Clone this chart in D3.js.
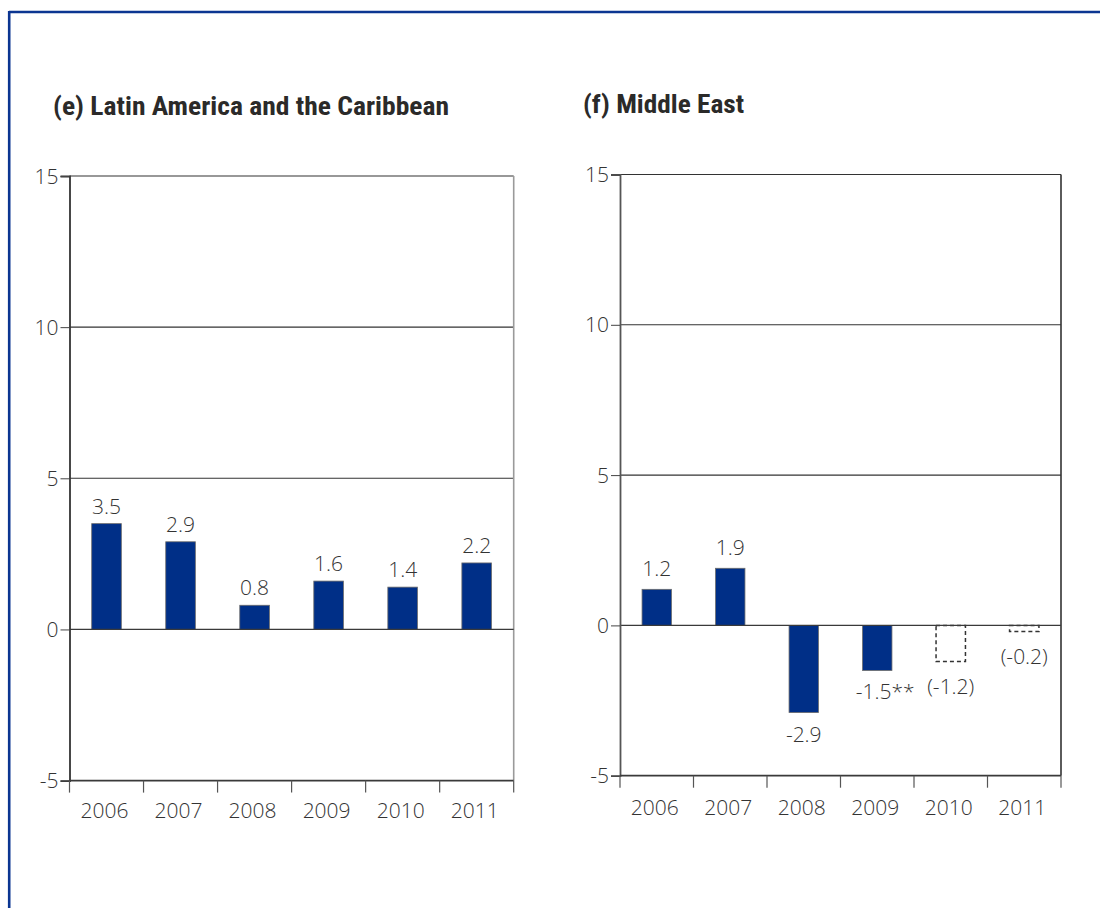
<!DOCTYPE html>
<html>
<head>
<meta charset="utf-8">
<script src="https://cdn.jsdelivr.net/npm/d3@7"></script>
<style>
  html, body { margin: 0; padding: 0; background: #fff; }
  svg { display: block; }
  .title { font-family: "Liberation Sans Narrow", "Roboto Condensed", Roboto, "Liberation Sans", sans-serif; font-weight: 700; font-size: 25px; fill: #2b2a29; }
  .lbl { font-family: "Open Sans", Lato, "Liberation Sans", sans-serif; font-weight: 300; font-size: 21px; fill: #333; }
</style>
</head>
<body>
<svg id="chart" width="1100" height="908"></svg>
<script>
// Years shown on both panels
const years = ["2006", "2007", "2008", "2009", "2010", "2011"];

// (e) Latin America and the Caribbean
const latamValues = [3.5, 2.9, 0.8, 1.6, 1.4, 2.2];
const latamLabels = ["3.5", "2.9", "0.8", "1.6", "1.4", "2.2"];

// (f) Middle East; the last two years are estimates drawn as dashed outlines
const meValues = [1.2, 1.9, -2.9, -1.5, -1.2, -0.2];
const meLabels = ["1.2", "1.9", "-2.9", "-1.5**", "(-1.2)", "(-0.2)"];
const meEstimate = [false, false, false, false, true, true];

// Shared value axis
const yDomain = [-5, 15];
const yTicks = [-5, 0, 5, 10, 15];
const gridValues = [5, 10, 15];

const svg = d3.select("#chart");

// Outer frame: blue rule along the top and left
svg.append("line").attr("x1", 9).attr("x2", 1100).attr("y1", 12).attr("y2", 12)
  .attr("stroke", "#0b3591").attr("stroke-width", 2.6);
svg.append("line").attr("x1", 9.2).attr("x2", 9.2).attr("y1", 11).attr("y2", 908)
  .attr("stroke", "#0b3591").attr("stroke-width", 2.6);

function drawPanel(cfg) {
  const g = svg.append("g");

  const x = d3.scaleBand().domain(years).range([cfg.x0, cfg.x1]).padding(0);
  const y = d3.scaleLinear().domain(yDomain).range([cfg.yBot, cfg.yTop]);
  const barW = x.bandwidth() * 0.4;

  // Title
  g.append("text").attr("class", "title")
    .attr("x", cfg.titleX).attr("y", cfg.titleY)
    .attr("textLength", cfg.titleW).attr("lengthAdjust", "spacingAndGlyphs")
    .text(cfg.title);

  // Horizontal rules at 5, 10 and 15
  g.selectAll("line.grid").data(gridValues).join("line")
    .attr("class", "grid")
    .attr("x1", cfg.x0).attr("x2", cfg.x1)
    .attr("y1", d => y(d)).attr("y2", d => y(d))
    .attr("stroke", "#333").attr("stroke-width", 1.1);

  // Right edge of the plot box
  g.append("line")
    .attr("x1", cfg.x1).attr("x2", cfg.x1)
    .attr("y1", y(15)).attr("y2", y(-5))
    .attr("stroke", cfg.rightColor).attr("stroke-width", 1.6);

  // Bars
  const data = cfg.values.map((v, i) => ({
    year: years[i], value: v, label: cfg.labels[i], est: cfg.estimate ? cfg.estimate[i] : false
  }));

  g.selectAll("rect.bar").data(data.filter(d => !d.est)).join("rect")
    .attr("class", "bar")
    .attr("x", d => x(d.year) + (x.bandwidth() - barW) / 2)
    .attr("width", barW)
    .attr("y", d => y(Math.max(0, d.value)))
    .attr("height", d => Math.abs(y(d.value) - y(0)))
    .attr("fill", "#002f87")
    .attr("stroke", "#6b6b6b").attr("stroke-width", 0.8);

  g.selectAll("rect.est").data(data.filter(d => d.est)).join("rect")
    .attr("class", "est")
    .attr("x", d => x(d.year) + (x.bandwidth() - barW) / 2)
    .attr("width", barW)
    .attr("y", d => y(Math.max(0, d.value)))
    .attr("height", d => Math.abs(y(d.value) - y(0)))
    .attr("fill", "none")
    .attr("stroke", "#333").attr("stroke-width", 1.5)
    .attr("stroke-dasharray", "4,3");

  // Zero line
  g.append("line")
    .attr("x1", cfg.x0).attr("x2", cfg.x1)
    .attr("y1", y(0)).attr("y2", y(0))
    .attr("stroke", "#3a3a3a").attr("stroke-width", 1.2);

  // Value labels
  g.selectAll("text.val").data(data).join("text")
    .attr("class", "lbl val")
    .attr("text-anchor", "middle")
    .attr("x", d => x(d.year) + x.bandwidth() / 2 + (d.label.endsWith("**") ? 8 : 0))
    .attr("y", d => d.value >= 0
      ? y(d.value) - cfg.posGap
      : y(d.value) + (d.est ? 33 : 29))
    .text(d => d.label);

  // Value axis with ticks pointing left
  const yAxis = d3.axisLeft(y).tickValues(yTicks).tickSize(9).tickPadding(2)
    .tickFormat(d3.format("d"));
  const ya = g.append("g").attr("transform", `translate(${cfg.x0},0)`).call(yAxis);
  ya.select(".domain").attr("stroke", cfg.axisColor).attr("stroke-width", 1.8);
  ya.selectAll(".tick line").attr("stroke", "#444").attr("stroke-width", 1);
  ya.selectAll(".tick text").attr("class", "lbl").attr("dy", "0.34em")
    .text(d => d < 0 ? "-" + Math.abs(d) : d);

  // Category axis: band boundaries marked below the bottom rule
  const bounds = years.map(d => x(d)).concat([cfg.x1]);
  g.append("line")
    .attr("x1", cfg.x0).attr("x2", cfg.x1)
    .attr("y1", y(-5)).attr("y2", y(-5))
    .attr("stroke", "#3a3a3a").attr("stroke-width", 1.8);
  g.selectAll("line.xt").data(bounds).join("line")
    .attr("class", "xt")
    .attr("x1", d => d).attr("x2", d => d)
    .attr("y1", y(-5)).attr("y2", y(-5) + 12)
    .attr("stroke", "#555").attr("stroke-width", 1.2);
  g.selectAll("text.yr").data(years).join("text")
    .attr("class", "lbl yr")
    .attr("text-anchor", "middle")
    .attr("x", d => x(d) + x.bandwidth() / 2 - 2)
    .attr("y", cfg.yearY)
    .text(d => d);
}

drawPanel({
  title: "(e) Latin America and the Caribbean",
  titleX: 53, titleY: 115, titleW: 396,
  x0: 69.5, x1: 513.7, yTop: 176, yBot: 780.6,
  values: latamValues, labels: latamLabels,
  rightColor: "#9a9a9a", axisColor: "#333",
  posGap: 10, yearY: 818
});

drawPanel({
  title: "(f) Middle East",
  titleX: 583, titleY: 113, titleW: 161,
  x0: 620, x1: 1061, yTop: 174.5, yBot: 775.7,
  values: meValues, labels: meLabels, estimate: meEstimate,
  rightColor: "#333", axisColor: "#555",
  posGap: 13, yearY: 815
});
</script>
</body>
</html>
